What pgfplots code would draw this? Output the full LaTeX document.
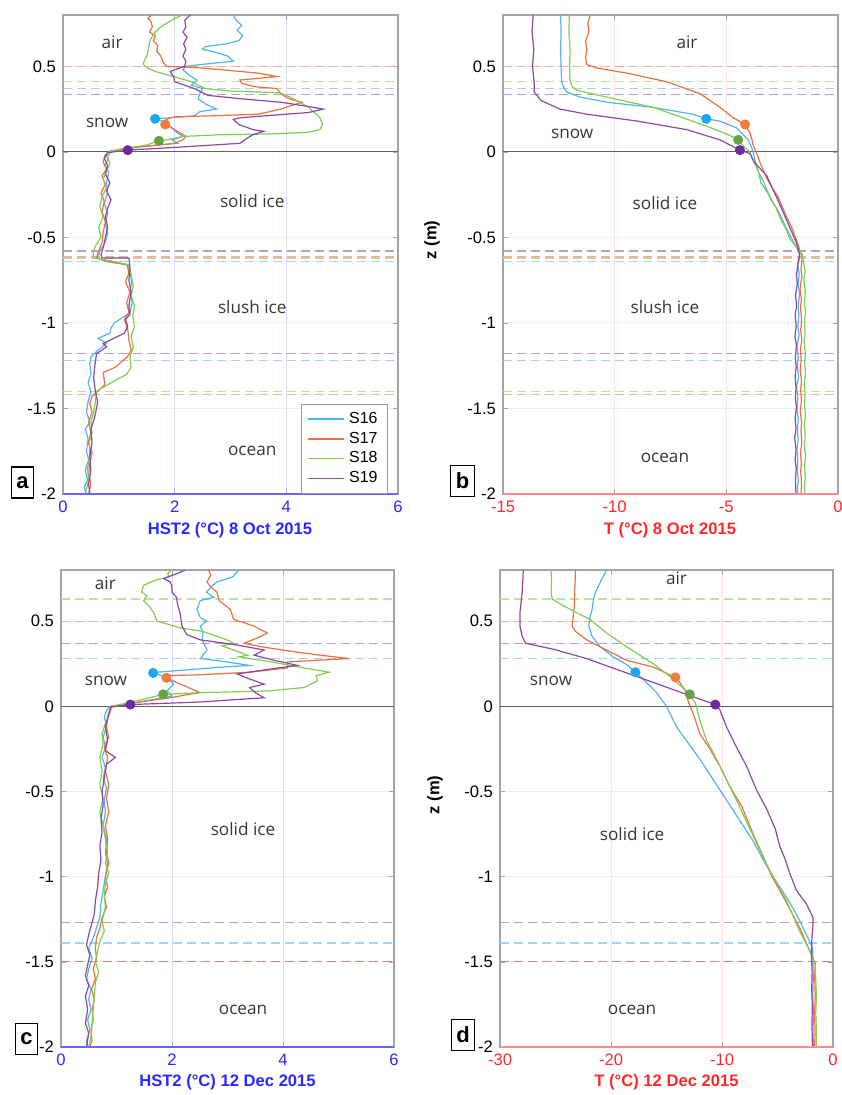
\documentclass[border=0pt]{standalone}
\usepackage{pgfplots}
\pgfplotsset{compat=1.18}
\usepackage{fontspec}
\setmainfont{Liberation Sans}
\newfontfamily\regionfont{Open Sans}

\definecolor{cS16}{RGB}{80,180,240}
\definecolor{cS17}{RGB}{235,112,64}
\definecolor{cS18}{RGB}{128,205,80}
\definecolor{cS19}{RGB}{140,72,165}
\definecolor{mS16}{RGB}{30,165,240}
\definecolor{mS17}{RGB}{240,125,60}
\definecolor{mS18}{RGB}{100,165,65}
\definecolor{mS19}{RGB}{110,40,160}
\definecolor{hstblue}{RGB}{40,40,255}
\definecolor{tred}{RGB}{255,40,40}
\definecolor{framegray}{RGB}{165,165,165}
\definecolor{regiontext}{RGB}{55,55,55}
\definecolor{basedash}{RGB}{200,140,95}

\tikzset{region/.style={font=\regionfont\fontsize{8.6}{10}\selectfont, text=regiontext}}

\pgfplotsset{
  panel/.style={
    scale only axis, width=167.5pt, height=239.5pt,
    ymin=-2, ymax=0.8, ytick={-2,-1.5,-1,-0.5,0,0.5},
    grid=major, y grid style={gray!15, line width=0.5pt},
    axis line style={framegray, line width=0.6pt},
    tick style={framegray}, major tick length=2.5pt, tick align=inside,
    ticklabel style={font=\fontsize{8.3}{9}\selectfont},
    /pgf/number format/assume math mode=true,
    clip mode=individual,
  },
  hst/.style={xmin=0, xmax=6, xtick={0,2,4,6},
    x grid style={blue!14, line width=0.5pt},
    xticklabel style={text=hstblue},
    after end axis/.code={\draw[blue!60, line width=0.9pt] (rel axis cs:0,0) -- (rel axis cs:1,0);}},
  tem/.style={x grid style={red!12, line width=0.5pt},
    xticklabel style={text=tred},
    after end axis/.code={\draw[red!45, line width=0.9pt] (rel axis cs:0,0) -- (rel axis cs:1,0);}},
  ln/.style={line width=0.6pt},
  mk/.style={only marks, mark=*, mark size=2.3pt, forget plot},
  lvl/.style={forget plot, line width=0.6pt, dash pattern=on 4.5pt off 2.5pt},
  zeroline/.style={forget plot, line width=0.6pt, color=gray!75!black},
}

\begin{document}
\begin{tikzpicture}
\useasboundingbox (0,0) rectangle (420.5pt,-547.5pt);

% ---------- (a) HST2, 8 Oct 2015 ----------
\begin{axis}[panel, hst, at={(31.5pt,-7.5pt)}, anchor=north west,
  legend style={at={(0.97,0)}, anchor=south east, draw=gray!80,
    font=\fontsize{8}{8}\selectfont, row sep=-1.2pt, inner xsep=3pt, inner ysep=2pt},
  legend cell align=left,
  legend image code/.code={\draw[#1, line width=0.7pt] (0pt,0pt) -- (18pt,0pt);}]
\addplot[lvl, cS17!55!white] coordinates {(0,0.5) (6,0.5)};
\addplot[lvl, cS18!55!white] coordinates {(0,0.41) (6,0.41)};
\addplot[lvl, cS16!55!white] coordinates {(0,0.37) (6,0.37)};
\addplot[lvl, cS19!55!white] coordinates {(0,0.335) (6,0.335)};
\addplot[lvl, cS19!55!white] coordinates {(0,-0.58) (6,-0.58)};
\addplot[lvl, cS18!55!white] coordinates {(0,-0.62) (6,-0.62)};
\addplot[lvl, cS17!55!white] coordinates {(0,-0.615) (6,-0.615)};
\addplot[lvl, cS16!55!white] coordinates {(0,-0.64) (6,-0.64)};
\addplot[lvl, cS19!55!white] coordinates {(0,-1.18) (6,-1.18)};
\addplot[lvl, cS16!55!white] coordinates {(0,-1.22) (6,-1.22)};
\addplot[lvl, cS18!55!white] coordinates {(0,-1.40) (6,-1.40)};
\addplot[lvl, cS17!55!white] coordinates {(0,-1.42) (6,-1.42)};
\addplot[zeroline] coordinates {(0,0) (6,0)};
\addplot[ln, cS16] coordinates {(3.05,0.80)(3.10,0.77)(3.20,0.74)(3.12,0.71)(3.22,0.68)(3.15,0.65)(2.90,0.63)(2.55,0.615)(2.50,0.60)(2.75,0.58)(2.95,0.56)(3.05,0.53)(2.60,0.515)(2.20,0.50)(2.15,0.48)(2.25,0.45)(2.40,0.42)(2.30,0.39)(2.50,0.37)(2.45,0.34)(2.42,0.31)(2.55,0.28)(2.75,0.25)(2.45,0.235)(2.35,0.21)(1.65,0.193)(1.85,0.17)(1.95,0.14)(2.05,0.11)(2.15,0.09)(1.95,0.07)(2.05,0.05)(1.40,0.03)(0.85,0.005)(0.78,-0.01)(0.80,-0.05)(0.75,-0.08)(0.82,-0.12)(0.78,-0.18)(0.80,-0.24)(0.74,-0.30)(0.80,-0.36)(0.76,-0.42)(0.80,-0.48)(0.74,-0.54)(0.66,-0.58)(0.62,-0.62)(0.75,-0.64)(1.15,-0.66)(1.20,-0.70)(1.23,-0.76)(1.20,-0.82)(1.24,-0.88)(1.20,-0.94)(0.92,-1.00)(0.86,-1.03)(0.84,-1.06)(0.63,-1.09)(0.78,-1.12)(0.62,-1.16)(0.50,-1.20)(0.48,-1.24)(0.50,-1.30)(0.45,-1.35)(0.50,-1.40)(0.45,-1.46)(0.42,-1.52)(0.48,-1.58)(0.40,-1.62)(0.45,-1.68)(0.42,-1.75)(0.46,-1.80)(0.40,-1.86)(0.44,-1.92)(0.38,-1.96)(0.42,-2.00)};
\addlegendentry{S16}
\addplot[ln, cS17] coordinates {(1.59,0.80)(1.52,0.78)(1.58,0.76)(1.60,0.73)(1.55,0.70)(1.65,0.68)(1.62,0.65)(1.70,0.62)(1.68,0.59)(1.75,0.56)(1.80,0.52)(1.85,0.50)(2.50,0.49)(3.50,0.46)(3.83,0.44)(3.50,0.43)(3.17,0.42)(3.20,0.40)(3.45,0.38)(3.83,0.37)(3.90,0.34)(4.05,0.31)(4.28,0.29)(3.90,0.25)(3.50,0.22)(2.60,0.21)(2.00,0.205)(1.85,0.19)(1.83,0.16)(1.95,0.14)(2.05,0.12)(2.20,0.09)(2.15,0.07)(2.00,0.05)(1.40,0.03)(0.85,0.005)(0.75,-0.02)(0.72,-0.06)(0.78,-0.10)(0.70,-0.14)(0.76,-0.19)(0.68,-0.24)(0.74,-0.29)(0.70,-0.35)(0.76,-0.41)(0.72,-0.47)(0.70,-0.53)(0.64,-0.58)(0.60,-0.62)(0.80,-0.64)(1.15,-0.66)(1.18,-0.71)(1.12,-0.76)(1.20,-0.82)(1.14,-0.88)(1.18,-0.94)(1.10,-0.98)(1.16,-1.04)(1.18,-1.10)(1.22,-1.16)(1.15,-1.20)(0.93,-1.26)(0.72,-1.29)(0.75,-1.36)(0.62,-1.40)(0.52,-1.43)(0.48,-1.47)(0.52,-1.52)(0.46,-1.58)(0.50,-1.64)(0.45,-1.70)(0.52,-1.76)(0.48,-1.82)(0.46,-1.88)(0.50,-1.94)(0.46,-2.00)};
\addlegendentry{S17}
\addplot[ln, cS18] coordinates {(2.13,0.80)(1.95,0.77)(1.75,0.73)(1.65,0.70)(1.59,0.67)(1.55,0.64)(1.53,0.60)(1.50,0.56)(1.44,0.52)(1.46,0.50)(1.65,0.47)(1.98,0.44)(2.30,0.41)(2.55,0.37)(3.00,0.355)(3.50,0.35)(3.89,0.345)(4.00,0.33)(4.13,0.31)(4.40,0.26)(4.60,0.20)(4.65,0.16)(4.60,0.13)(4.40,0.115)(3.80,0.105)(2.80,0.10)(2.15,0.09)(1.85,0.07)(1.72,0.065)(1.50,0.04)(1.00,0.015)(0.85,0.00)(0.80,-0.03)(0.84,-0.07)(0.78,-0.11)(0.72,-0.16)(0.78,-0.21)(0.70,-0.26)(0.66,-0.32)(0.72,-0.38)(0.64,-0.44)(0.68,-0.50)(0.58,-0.55)(0.54,-0.59)(0.55,-0.62)(0.90,-0.64)(1.18,-0.66)(1.22,-0.72)(1.26,-0.78)(1.22,-0.84)(1.28,-0.90)(1.25,-0.96)(1.28,-1.02)(1.22,-1.08)(1.26,-1.14)(1.20,-1.20)(1.22,-1.26)(1.14,-1.30)(0.86,-1.35)(0.60,-1.40)(0.58,-1.46)(0.55,-1.52)(0.50,-1.58)(0.52,-1.64)(0.47,-1.70)(0.48,-1.78)(0.44,-1.85)(0.46,-1.92)(0.40,-2.00)};
\addlegendentry{S18}
\addplot[ln, cS19] coordinates {(2.28,0.80)(2.18,0.77)(2.20,0.73)(2.15,0.70)(2.22,0.67)(2.16,0.63)(2.20,0.60)(2.15,0.56)(2.20,0.53)(2.18,0.50)(1.92,0.47)(1.98,0.44)(2.00,0.41)(2.35,0.37)(2.60,0.33)(3.20,0.31)(3.90,0.29)(4.30,0.27)(4.66,0.25)(4.40,0.23)(3.80,0.215)(3.20,0.20)(3.05,0.19)(3.15,0.16)(3.40,0.13)(3.60,0.12)(3.40,0.10)(3.30,0.08)(3.17,0.05)(2.20,0.03)(1.16,0.01)(0.80,-0.005)(0.74,-0.04)(0.80,-0.08)(0.76,-0.13)(0.84,-0.18)(0.78,-0.23)(0.86,-0.28)(0.80,-0.33)(0.76,-0.38)(0.80,-0.44)(0.76,-0.50)(0.72,-0.56)(0.68,-0.60)(0.70,-0.62)(1.18,-0.62)(1.20,-0.68)(1.18,-0.75)(1.22,-0.82)(1.18,-0.90)(1.20,-0.95)(1.12,-0.98)(1.16,-1.02)(1.10,-1.06)(0.72,-1.12)(0.78,-1.14)(0.60,-1.18)(0.57,-1.25)(0.55,-1.32)(0.58,-1.40)(0.62,-1.46)(0.60,-1.50)(0.56,-1.56)(0.50,-1.62)(0.52,-1.70)(0.48,-1.78)(0.50,-1.86)(0.46,-1.94)(0.48,-2.00)};
\addlegendentry{S19}
\addplot[mk, mS16] coordinates {(1.65,0.193)};
\addplot[mk, mS17] coordinates {(1.83,0.16)};
\addplot[mk, mS18] coordinates {(1.72,0.065)};
\addplot[mk, mS19] coordinates {(1.16,0.01)};
\node[region] at (axis cs:0.88,0.64) {air};
\node[region] at (axis cs:0.79,0.17) {snow};
\node[region] at (axis cs:3.39,-0.29) {solid ice};
\node[region] at (axis cs:3.39,-0.91) {slush ice};
\node[region] at (axis cs:3.39,-1.75) {ocean};
\end{axis}

% ---------- (b) T, 8 Oct 2015 ----------
\begin{axis}[panel, tem, at={(251.5pt,-7.5pt)}, anchor=north west,
  xmin=-15, xmax=0, xtick={-15,-10,-5,0}]
\addplot[lvl, cS17!55!white] coordinates {(-15,0.5) (0,0.5)};
\addplot[lvl, cS18!55!white] coordinates {(-15,0.41) (0,0.41)};
\addplot[lvl, cS16!55!white] coordinates {(-15,0.37) (0,0.37)};
\addplot[lvl, cS19!55!white] coordinates {(-15,0.335) (0,0.335)};
\addplot[lvl, cS19!55!white] coordinates {(-15,-0.58) (0,-0.58)};
\addplot[lvl, cS18!55!white] coordinates {(-15,-0.62) (0,-0.62)};
\addplot[lvl, cS17!55!white] coordinates {(-15,-0.615) (0,-0.615)};
\addplot[lvl, cS16!55!white] coordinates {(-15,-0.64) (0,-0.64)};
\addplot[lvl, cS19!55!white] coordinates {(-15,-1.18) (0,-1.18)};
\addplot[lvl, cS16!55!white] coordinates {(-15,-1.22) (0,-1.22)};
\addplot[lvl, cS18!55!white] coordinates {(-15,-1.40) (0,-1.40)};
\addplot[lvl, cS17!55!white] coordinates {(-15,-1.42) (0,-1.42)};
\addplot[zeroline] coordinates {(-15,0) (0,0)};
\addplot[ln, cS16] coordinates {(-12.42,0.80)(-12.40,0.70)(-12.42,0.60)(-12.40,0.50)(-12.38,0.42)(-12.30,0.38)(-12.15,0.35)(-11.55,0.32)(-10.36,0.29)(-8.28,0.26)(-6.5,0.22)(-5.9,0.193)(-5.3,0.18)(-4.54,0.14)(-4.02,0.07)(-3.85,0.02)(-3.80,0.0)(-3.72,-0.05)(-3.55,-0.12)(-3.45,-0.18)(-3.15,-0.24)(-3.0,-0.28)(-2.75,-0.33)(-2.55,-0.38)(-2.3,-0.45)(-2.1,-0.50)(-1.9,-0.55)(-1.75,-0.58)(-1.72,-0.62)(-1.80,-0.66)(-1.74,-0.71)(-1.78,-0.78)(-1.72,-0.83)(-1.78,-0.90)(-1.75,-0.96)(-1.80,-1.02)(-1.74,-1.07)(-1.84,-1.14)(-1.78,-1.20)(-1.82,-1.25)(-1.76,-1.32)(-1.86,-1.37)(-1.80,-1.44)(-1.84,-1.51)(-1.78,-1.56)(-1.82,-1.63)(-1.78,-1.68)(-1.84,-1.74)(-1.80,-1.81)(-1.82,-1.86)(-1.78,-1.92)(-1.82,-1.97)(-1.80,-2.0)};
\addplot[ln, cS17] coordinates {(-11.1,0.80)(-11.2,0.75)(-11.15,0.70)(-11.3,0.65)(-11.25,0.60)(-11.3,0.55)(-11.25,0.51)(-10.8,0.49)(-9.46,0.46)(-7.67,0.41)(-6.18,0.34)(-5.28,0.26)(-4.7,0.20)(-4.16,0.16)(-3.94,0.11)(-3.85,0.07)(-3.8,0.04)(-3.66,0.0)(-3.5,-0.06)(-3.21,-0.15)(-2.95,-0.21)(-2.7,-0.26)(-2.5,-0.32)(-2.3,-0.38)(-2.05,-0.45)(-1.85,-0.52)(-1.7,-0.58)(-1.6,-0.62)(-1.66,-0.68)(-1.62,-0.73)(-1.70,-0.80)(-1.64,-0.86)(-1.68,-0.91)(-1.63,-0.98)(-1.67,-1.04)(-1.62,-1.10)(-1.68,-1.15)(-1.65,-1.22)(-1.69,-1.28)(-1.63,-1.34)(-1.67,-1.39)(-1.64,-1.46)(-1.69,-1.52)(-1.63,-1.58)(-1.66,-1.63)(-1.62,-1.70)(-1.68,-1.76)(-1.64,-1.82)(-1.67,-1.87)(-1.63,-1.94)(-1.66,-2.0)};
\addplot[ln, cS18] coordinates {(-12.03,0.80)(-12.05,0.70)(-12.0,0.60)(-12.02,0.50)(-12.0,0.42)(-11.9,0.38)(-11.7,0.36)(-10.36,0.32)(-8.27,0.26)(-5.88,0.15)(-4.9,0.10)(-4.47,0.07)(-4.2,0.03)(-3.95,0.0)(-3.8,-0.05)(-3.55,-0.12)(-3.35,-0.17)(-3.06,-0.26)(-2.8,-0.32)(-2.55,-0.40)(-2.3,-0.46)(-2.15,-0.51)(-1.85,-0.56)(-1.6,-0.60)(-1.55,-0.64)(-1.48,-0.70)(-1.53,-0.75)(-1.46,-0.82)(-1.51,-0.88)(-1.45,-0.93)(-1.50,-1.00)(-1.47,-1.06)(-1.52,-1.11)(-1.46,-1.18)(-1.50,-1.24)(-1.45,-1.29)(-1.51,-1.36)(-1.47,-1.42)(-1.50,-1.47)(-1.46,-1.54)(-1.51,-1.60)(-1.47,-1.65)(-1.50,-1.72)(-1.45,-1.78)(-1.50,-1.83)(-1.47,-1.90)(-1.50,-1.96)(-1.48,-2.0)};
\addplot[ln, cS19] coordinates {(-13.65,0.80)(-13.7,0.70)(-13.62,0.60)(-13.68,0.50)(-13.6,0.40)(-13.6,0.35)(-13.3,0.30)(-12.45,0.25)(-11.25,0.22)(-9.0,0.18)(-6.78,0.13)(-5.28,0.07)(-4.39,0.01)(-3.95,-0.01)(-3.75,-0.06)(-3.19,-0.14)(-2.95,-0.21)(-2.7,-0.28)(-2.5,-0.34)(-2.3,-0.40)(-2.1,-0.46)(-1.9,-0.52)(-1.8,-0.56)(-1.72,-0.60)(-1.80,-0.66)(-1.86,-0.72)(-1.82,-0.77)(-1.90,-0.84)(-1.85,-0.90)(-1.92,-0.95)(-1.87,-1.02)(-1.93,-1.08)(-1.86,-1.13)(-1.91,-1.20)(-1.87,-1.26)(-1.92,-1.31)(-1.88,-1.38)(-1.91,-1.44)(-1.86,-1.49)(-1.92,-1.56)(-1.88,-1.62)(-1.94,-1.67)(-1.88,-1.74)(-1.92,-1.80)(-1.87,-1.85)(-1.91,-1.92)(-1.88,-2.0)};
\addplot[mk, mS16] coordinates {(-5.9,0.193)};
\addplot[mk, mS17] coordinates {(-4.16,0.16)};
\addplot[mk, mS18] coordinates {(-4.47,0.07)};
\addplot[mk, mS19] coordinates {(-4.39,0.01)};
\node[region] at (axis cs:-6.76,0.64) {air};
\node[region] at (axis cs:-11.9,0.105) {snow};
\node[region] at (axis cs:-7.75,-0.30) {solid ice};
\node[region] at (axis cs:-7.75,-0.91) {slush ice};
\node[region] at (axis cs:-7.75,-1.79) {ocean};
\end{axis}

% ---------- (c) HST2, 12 Dec 2015 ----------
\begin{axis}[panel, hst, at={(30.5pt,-285pt)}, anchor=north west, width=166.5pt, height=238.5pt]
\addplot[lvl, cS18!55!white] coordinates {(0,0.63) (6,0.63)};
\addplot[lvl, cS17!55!white] coordinates {(0,0.5) (6,0.5)};
\addplot[lvl, cS19!55!white] coordinates {(0,0.37) (6,0.37)};
\addplot[lvl, cS16!55!white] coordinates {(0,0.28) (6,0.28)};
\addplot[lvl, cS19!55!white] coordinates {(0,-1.27) (6,-1.27)};
\addplot[lvl, cS16!55!white] coordinates {(0,-1.39) (6,-1.39)};
\addplot[lvl, cS18!55!white] coordinates {(0,-1.5) (6,-1.5)};
\addplot[lvl, basedash] coordinates {(0,-1.5) (6,-1.5)};
\addplot[zeroline] coordinates {(0,0) (6,0)};
\addplot[ln, cS16] coordinates {(3.2,0.80)(3.1,0.76)(2.81,0.73)(2.70,0.70)(2.62,0.67)(2.75,0.64)(2.51,0.62)(2.45,0.57)(2.51,0.52)(2.62,0.50)(2.51,0.47)(2.56,0.43)(2.54,0.39)(2.63,0.33)(2.51,0.28)(2.90,0.265)(3.39,0.24)(2.90,0.23)(2.51,0.22)(1.73,0.20)(1.66,0.196)(1.91,0.17)(2.03,0.13)(1.91,0.09)(2.0,0.06)(1.40,0.025)(0.89,0.0)(0.83,-0.02)(0.78,-0.06)(0.82,-0.12)(0.76,-0.18)(0.80,-0.24)(0.74,-0.30)(0.80,-0.36)(0.76,-0.42)(0.82,-0.48)(0.78,-0.55)(0.80,-0.62)(0.76,-0.70)(0.82,-0.78)(0.80,-0.86)(0.84,-0.92)(0.80,-1.00)(0.76,-1.08)(0.72,-1.16)(0.70,-1.24)(0.64,-1.30)(0.58,-1.36)(0.50,-1.42)(0.56,-1.48)(0.50,-1.54)(0.46,-1.60)(0.54,-1.66)(0.50,-1.72)(0.54,-1.78)(0.48,-1.84)(0.52,-1.90)(0.46,-1.96)(0.48,-2.0)};
\addplot[ln, cS17] coordinates {(2.66,0.80)(2.70,0.77)(2.63,0.73)(2.70,0.70)(2.81,0.67)(2.85,0.62)(3.05,0.57)(3.11,0.51)(3.30,0.49)(3.48,0.47)(3.72,0.43)(3.60,0.41)(3.30,0.37)(3.60,0.35)(4.20,0.32)(4.80,0.295)(5.19,0.28)(4.60,0.27)(4.08,0.26)(4.08,0.225)(3.40,0.20)(2.50,0.185)(1.97,0.18)(1.90,0.167)(2.15,0.13)(2.51,0.08)(2.30,0.07)(1.97,0.05)(1.30,0.02)(0.90,0.0)(0.85,-0.05)(0.82,-0.12)(0.86,-0.18)(0.78,-0.24)(0.84,-0.30)(0.80,-0.38)(0.86,-0.46)(0.82,-0.54)(0.86,-0.62)(0.80,-0.70)(0.84,-0.78)(0.82,-0.86)(0.86,-0.92)(0.80,-1.00)(0.84,-1.06)(0.78,-1.12)(0.82,-1.18)(0.74,-1.24)(0.70,-1.30)(0.64,-1.36)(0.62,-1.42)(0.64,-1.48)(0.58,-1.54)(0.62,-1.60)(0.55,-1.66)(0.60,-1.72)(0.56,-1.78)(0.58,-1.84)(0.54,-1.90)(0.56,-1.96)(0.52,-2.0)};
\addplot[ln, cS18] coordinates {(2.00,0.80)(1.92,0.78)(1.95,0.76)(1.70,0.74)(1.49,0.71)(1.45,0.67)(1.55,0.65)(1.49,0.62)(1.58,0.59)(1.67,0.55)(1.73,0.50)(2.15,0.46)(2.55,0.44)(2.99,0.39)(3.11,0.37)(2.90,0.355)(3.36,0.30)(3.20,0.29)(3.80,0.26)(4.20,0.235)(4.83,0.20)(4.60,0.18)(4.62,0.15)(4.38,0.11)(3.72,0.09)(2.51,0.08)(1.84,0.07)(1.40,0.035)(0.92,0.0)(0.88,-0.04)(0.80,-0.10)(0.74,-0.16)(0.76,-0.22)(0.70,-0.30)(0.74,-0.38)(0.70,-0.46)(0.76,-0.54)(0.70,-0.62)(0.76,-0.70)(0.80,-0.78)(0.84,-0.86)(0.80,-0.92)(0.86,-0.98)(0.80,-1.04)(0.78,-1.10)(0.80,-1.18)(0.74,-1.26)(0.78,-1.32)(0.70,-1.38)(0.66,-1.44)(0.62,-1.50)(0.68,-1.56)(0.62,-1.62)(0.60,-1.70)(0.58,-1.78)(0.56,-1.86)(0.54,-1.94)(0.50,-2.0)};
\addplot[ln, cS19] coordinates {(2.24,0.80)(2.10,0.78)(1.85,0.75)(1.97,0.73)(2.00,0.70)(2.00,0.67)(2.08,0.64)(2.10,0.60)(2.15,0.54)(2.18,0.47)(2.27,0.42)(2.51,0.39)(3.17,0.36)(3.66,0.33)(3.48,0.30)(3.84,0.27)(4.26,0.24)(3.80,0.22)(3.17,0.19)(3.40,0.16)(3.66,0.13)(3.40,0.11)(3.50,0.08)(3.66,0.05)(2.50,0.025)(1.25,0.01)(0.90,-0.005)(0.86,-0.05)(0.80,-0.12)(0.84,-0.20)(0.80,-0.26)(0.98,-0.30)(0.82,-0.34)(0.78,-0.42)(0.74,-0.50)(0.76,-0.58)(0.72,-0.66)(0.74,-0.74)(0.70,-0.82)(0.72,-0.90)(0.68,-0.98)(0.66,-1.06)(0.62,-1.14)(0.60,-1.22)(0.55,-1.28)(0.50,-1.34)(0.46,-1.40)(0.52,-1.46)(0.48,-1.52)(0.44,-1.58)(0.50,-1.64)(0.44,-1.70)(0.48,-1.78)(0.44,-1.86)(0.50,-1.92)(0.46,-2.0)};
\addplot[mk, mS16] coordinates {(1.66,0.196)};
\addplot[mk, mS17] coordinates {(1.90,0.167)};
\addplot[mk, mS18] coordinates {(1.84,0.07)};
\addplot[mk, mS19] coordinates {(1.25,0.01)};
\node[region] at (axis cs:0.80,0.72) {air};
\node[region] at (axis cs:0.81,0.15) {snow};
\node[region] at (axis cs:3.28,-0.72) {solid ice};
\node[region] at (axis cs:3.28,-1.78) {ocean};
\end{axis}

% ---------- (d) T, 12 Dec 2015 ----------
\begin{axis}[panel, tem, at={(250pt,-285pt)}, anchor=north west, width=166.5pt, height=238.5pt,
  xmin=-30, xmax=0, xtick={-30,-20,-10,0}]
\addplot[lvl, cS18!55!white] coordinates {(-30,0.63) (0,0.63)};
\addplot[lvl, cS17!55!white] coordinates {(-30,0.5) (0,0.5)};
\addplot[lvl, cS19!55!white] coordinates {(-30,0.37) (0,0.37)};
\addplot[lvl, cS16!55!white] coordinates {(-30,0.28) (0,0.28)};
\addplot[lvl, cS19!55!white] coordinates {(-30,-1.27) (0,-1.27)};
\addplot[lvl, cS16!55!white] coordinates {(-30,-1.39) (0,-1.39)};
\addplot[lvl, cS18!55!white] coordinates {(-30,-1.5) (0,-1.5)};
\addplot[lvl, basedash] coordinates {(-30,-1.5) (0,-1.5)};
\addplot[zeroline] coordinates {(-30,0) (0,0)};
\addplot[ln, cS16] coordinates {(-20.4,0.80)(-20.8,0.75)(-21.1,0.71)(-21.4,0.67)(-21.6,0.62)(-21.7,0.57)(-21.9,0.52)(-22.0,0.47)(-21.7,0.41)(-21.0,0.35)(-19.8,0.29)(-18.6,0.245)(-17.8,0.20)(-16.8,0.14)(-15.9,0.08)(-15.0,0.0)(-14.1,-0.12)(-13.0,-0.22)(-12.0,-0.31)(-11.0,-0.41)(-10.0,-0.51)(-9.2,-0.59)(-8.4,-0.67)(-7.2,-0.79)(-6.3,-0.90)(-5.4,-1.00)(-4.2,-1.12)(-3.3,-1.22)(-2.4,-1.34)(-1.83,-1.42)(-1.8,-1.50)(-1.78,-1.60)(-1.82,-1.70)(-1.76,-1.80)(-1.80,-1.90)(-1.78,-2.0)};
\addplot[ln, cS17] coordinates {(-23.2,0.80)(-23.25,0.70)(-23.3,0.60)(-23.4,0.53)(-23.5,0.47)(-23.2,0.44)(-22.2,0.39)(-20.4,0.33)(-18.6,0.27)(-16.2,0.23)(-14.2,0.17)(-13.8,0.14)(-13.3,0.09)(-13.0,0.02)(-12.6,-0.04)(-12.0,-0.16)(-11.1,-0.25)(-10.2,-0.35)(-9.3,-0.47)(-8.2,-0.59)(-7.2,-0.75)(-6.3,-0.88)(-5.5,-1.0)(-4.3,-1.14)(-3.0,-1.30)(-2.2,-1.42)(-1.6,-1.51)(-1.65,-1.60)(-1.6,-1.70)(-1.66,-1.80)(-1.62,-1.90)(-1.65,-2.0)};
\addplot[ln, cS18] coordinates {(-25.4,0.80)(-25.35,0.72)(-25.4,0.67)(-25.3,0.63)(-24.3,0.59)(-23.1,0.55)(-21.9,0.51)(-20.4,0.43)(-18.6,0.35)(-16.2,0.25)(-14.4,0.16)(-12.9,0.07)(-12.4,0.02)(-12.0,-0.08)(-11.4,-0.20)(-10.8,-0.27)(-9.9,-0.39)(-8.7,-0.55)(-7.2,-0.76)(-6.2,-0.90)(-5.4,-1.0)(-4.2,-1.14)(-3.0,-1.32)(-1.9,-1.46)(-1.6,-1.52)(-1.55,-1.60)(-1.5,-1.70)(-1.55,-1.80)(-1.5,-1.90)(-1.52,-2.0)};
\addplot[ln, cS19] coordinates {(-27.9,0.80)(-28.0,0.67)(-28.2,0.55)(-28.2,0.47)(-28.0,0.41)(-27.7,0.37)(-25.2,0.335)(-22.2,0.28)(-19.2,0.21)(-16.2,0.14)(-13.2,0.07)(-10.6,0.01)(-10.2,-0.02)(-9.6,-0.12)(-8.7,-0.24)(-7.8,-0.35)(-6.9,-0.49)(-6.0,-0.60)(-5.2,-0.72)(-4.8,-0.82)(-4.3,-0.90)(-3.9,-0.98)(-3.3,-1.08)(-2.4,-1.16)(-1.8,-1.24)(-1.8,-1.28)(-1.9,-1.36)(-1.95,-1.46)(-1.88,-1.56)(-1.92,-1.66)(-1.86,-1.76)(-1.9,-1.86)(-1.85,-2.0)};
\addplot[mk, mS16] coordinates {(-17.8,0.20)};
\addplot[mk, mS17] coordinates {(-14.2,0.17)};
\addplot[mk, mS18] coordinates {(-12.9,0.07)};
\addplot[mk, mS19] coordinates {(-10.6,0.01)};
\node[region] at (axis cs:-14.1,0.75) {air};
\node[region] at (axis cs:-25.4,0.15) {snow};
\node[region] at (axis cs:-18.1,-0.75) {solid ice};
\node[region] at (axis cs:-18.1,-1.78) {ocean};
\end{axis}

% axis titles
\begin{scope}[every node/.style={font=\bfseries\fontsize{8.3}{9}\selectfont}]
\node[text=hstblue] at (115pt,-265pt) {HST2 (°C) 8 Oct 2015};
\node[text=tred] at (335pt,-265pt) {T (°C) 8 Oct 2015};
\node[text=hstblue] at (113.75pt,-541pt) {HST2 (°C) 12 Dec 2015};
\node[text=tred] at (333.25pt,-541pt) {T (°C) 12 Dec 2015};
\node[rotate=90] at (216pt,-120pt) {z (m)};
\node[rotate=90] at (217.5pt,-397.5pt) {z (m)};
\end{scope}

% panel letters
\begin{scope}[every node/.style={draw, line width=0.6pt, inner xsep=2.5pt, inner ysep=0pt,
    minimum height=15.5pt, font=\bfseries\fontsize{11}{11}\selectfont}]
\node at (11.25pt,-241.25pt) {a};
\node at (231.25pt,-240.5pt) {b};
\node at (13.25pt,-519.5pt) {c};
\node at (231.5pt,-517.5pt) {d};
\end{scope}
\end{tikzpicture}
\end{document}
